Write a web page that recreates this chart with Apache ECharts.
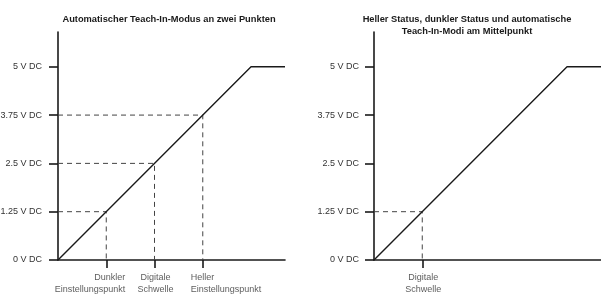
<!DOCTYPE html>
<html>
<head>
<meta charset="utf-8">
<script src="https://cdn.jsdelivr.net/npm/echarts@6/dist/echarts.min.js"></script>
<style>
  html, body { margin: 0; padding: 0; background: #fff; }
  #chart { width: 601px; height: 299px; }
</style>
</head>
<body>
<div id="chart"></div>
<script>
// Spannungsstufen an der y-Achse
const yTicks = [0, 1.25, 2.5, 3.75, 5]
// Kennlinie (Eingang -> Ausgang), flach ab 5 V
const responseX = [0, 5, 5.88]
const responseY = [0, 5, 5]
// linkes Diagramm
const leftTitle = 'Automatischer Teach-In-Modus an zwei Punkten'
const leftMarks = [1.25, 2.5, 3.75]
const leftMarkLabels = ['Dunkler\nEinstellungspunkt', 'Digitale\nSchwelle', 'Heller\nEinstellungspunkt']
const leftMarkAlign = ['right', 'center', 'left']
// rechtes Diagramm
const rightTitle = 'Heller Status, dunkler Status und automatische\nTeach-In-Modi am Mittelpunkt'
const rightMarks = [1.25]
const rightMarkLabels = ['Digitale\nSchwelle']
const rightMarkAlign = ['center']

const FONT = 'Liberation Sans, Arial, Helvetica, sans-serif'
const INK = '#1a1a1a'
// horizontale Verschiebung je nach Ausrichtung der Beschriftung
const ALIGN_SHIFT = { right: 19, center: 1, left: -12 }

const chart = echarts.init(document.getElementById('chart'), null, { renderer: 'canvas' })

const xAxisFor = (idx, marks) => ({
  type: 'value', gridIndex: idx, min: 0, max: 5.88,
  splitLine: { show: false },
  axisLine: { lineStyle: { color: INK, width: 1.6 } },
  axisTick: { customValues: marks, interval: 0, length: 8, lineStyle: { color: INK, width: 1.6 } },
  axisLabel: { show: false }
})

const yAxisFor = (idx, margin) => ({
  type: 'value', gridIndex: idx, min: 0, max: 5.9,
  splitLine: { show: false },
  axisLine: { lineStyle: { color: INK, width: 1.6 } },
  axisTick: { customValues: yTicks, interval: 0, length: 9, lineStyle: { color: INK, width: 1.6 } },
  axisLabel: {
    customValues: yTicks, interval: 0, hideOverlap: false,
    margin: margin, color: '#333', fontSize: 9, fontFamily: FONT,
    formatter: v => v + ' V DC'
  }
})

const guideSeries = (idx, marks) => marks.map(v => ({
  type: 'line', xAxisIndex: idx, yAxisIndex: idx, symbol: 'none', silent: true,
  data: [[0, v], [v, v], [v, 0]],
  lineStyle: { color: '#444', width: 1, type: [5, 4] },
  z: 1
}))

// Beschriftungen unter den x-Markierungen
const markLabelSeries = (idx, marks, labels, aligns) => marks.map((v, i) => ({
  type: 'scatter', xAxisIndex: idx, yAxisIndex: idx, symbolSize: 0, silent: true,
  data: [[v, 0]],
  label: {
    show: true, position: 'bottom', distance: 12,
    align: aligns[i], offset: [ALIGN_SHIFT[aligns[i]], 0],
    formatter: labels[i], color: '#333', fontSize: 9, fontFamily: FONT, lineHeight: 12
  }
}))

const responseSeries = idx => ({
  type: 'line', xAxisIndex: idx, yAxisIndex: idx, symbol: 'none', silent: true,
  data: responseX.map((x, i) => [x, responseY[i]]),
  lineStyle: { color: INK, width: 1.4 },
  z: 3
})

const option = {
  animation: false,
  graphic: [
    { type: 'text', x: 169, y: 19, style: { text: leftTitle, textAlign: 'center', textVerticalAlign: 'middle', font: 'bold 9.3px ' + FONT, fill: INK } },
    { type: 'text', x: 467, y: 25, style: { text: rightTitle, textAlign: 'center', textVerticalAlign: 'middle', font: 'bold 9.3px ' + FONT, fill: INK, lineHeight: 12 } }
  ],
  grid: [
    { left: 58, top: 32, width: 227, height: 228, outerBoundsMode: 'none', containLabel: false },
    { left: 374, top: 32, width: 227, height: 228, outerBoundsMode: 'none', containLabel: false }
  ],
  xAxis: [xAxisFor(0, leftMarks), xAxisFor(1, rightMarks)],
  yAxis: [yAxisFor(0, 16), yAxisFor(1, 15)],
  series: [
    ...guideSeries(0, leftMarks),
    ...guideSeries(1, rightMarks),
    ...markLabelSeries(0, leftMarks, leftMarkLabels, leftMarkAlign),
    ...markLabelSeries(1, rightMarks, rightMarkLabels, rightMarkAlign),
    responseSeries(0),
    responseSeries(1)
  ]
}

chart.setOption(option)
</script>
</body>
</html>
